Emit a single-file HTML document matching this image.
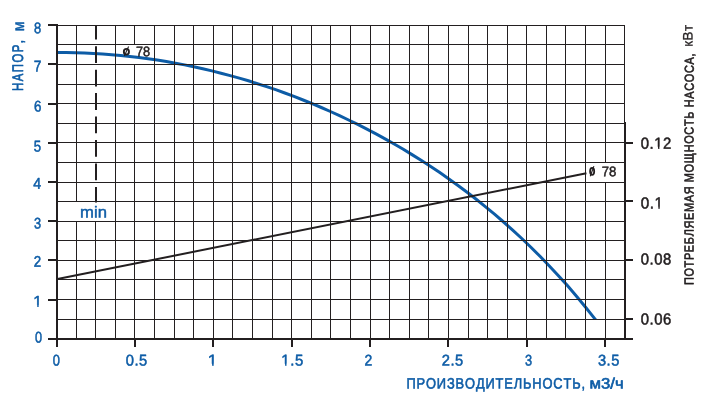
<!DOCTYPE html>
<html><head><meta charset="utf-8"><title>chart</title>
<style>
html,body{margin:0;padding:0;background:#fff;}
svg{display:block;will-change:transform;font-family:"Liberation Sans",sans-serif;font-kerning:none;text-rendering:geometricPrecision;}
</style></head><body>
<svg width="713" height="408" viewBox="0 0 713 408">
<defs><clipPath id="c1" clipPathUnits="userSpaceOnUse"><path clip-rule="evenodd" d="M-50,-50H400V50H-50ZM-0.28,-1.90H4.00V1H-0.28Z M5.46,-1.90H9.62V1H5.46Z"/></clipPath><clipPath id="c2" clipPathUnits="userSpaceOnUse"><path clip-rule="evenodd" d="M-50,-50H400V50H-50ZM-0.28,-1.90H4.00V1H-0.28Z M5.46,-1.90H9.62V1H5.46Z"/></clipPath><clipPath id="c3" clipPathUnits="userSpaceOnUse"><path clip-rule="evenodd" d="M-50,-50H400V50H-50ZM-0.28,-1.90H4.00V1H-0.28Z M5.46,-1.90H9.62V1H5.46Z"/></clipPath><clipPath id="c4" clipPathUnits="userSpaceOnUse"><path clip-rule="evenodd" d="M-50,-50H400V50H-50ZM14.26,-1.90H18.55V1H14.26Z M20.00,-1.90H24.16V1H20.00Z"/></clipPath><clipPath id="c5" clipPathUnits="userSpaceOnUse"><path clip-rule="evenodd" d="M-50,-50H400V50H-50ZM14.26,-1.90H18.55V1H14.26Z M20.00,-1.90H24.16V1H20.00Z"/></clipPath></defs>
<rect width="713" height="408" fill="#fff"/>
<clipPath id="cb"><rect x="0" y="0" width="713" height="319.3"/></clipPath>
<path d="M57.0,52.5 L66.1,52.4 L75.2,52.7 L84.3,53.0 L93.5,53.5 L102.6,54.1 L111.7,54.8 L120.8,55.6 L129.9,56.5 L139.0,57.6 L148.1,58.8 L157.2,60.1 L166.4,61.6 L175.5,63.2 L184.6,64.9 L193.7,66.8 L202.8,68.8 L211.9,70.9 L221.0,73.2 L230.2,75.6 L239.3,78.1 L248.4,80.8 L257.5,83.7 L266.6,86.6 L275.7,89.7 L284.8,93.0 L294.0,96.4 L303.1,100.0 L312.2,103.7 L321.3,107.5 L330.4,111.5 L339.5,115.7 L348.6,120.0 L357.7,124.4 L366.9,129.1 L376.0,133.9 L385.1,138.9 L394.2,144.0 L403.3,149.3 L412.4,154.9 L421.5,160.6 L430.7,166.5 L439.8,172.6 L448.9,178.9 L458.0,185.5 L467.1,192.3 L476.2,199.3 L485.3,206.6 L494.5,214.2 L503.6,222.0 L512.7,230.1 L521.8,238.5 L530.9,247.2 L540.0,256.3 L549.1,265.7 L558.2,275.5 L567.4,285.6 L576.5,296.2 L585.6,307.2 L594.7,318.6 L598.3,323.1" fill="none" stroke="#0d5ca6" stroke-width="3" clip-path="url(#cb)"/>
<g fill="#231f20" shape-rendering="crispEdges">
<rect x="76" y="25" width="1" height="177"/>
<rect x="76" y="221" width="1" height="118"/>
<rect x="95" y="221" width="1" height="118"/>
<rect x="115" y="25" width="1" height="314"/>
<rect x="134" y="25" width="1" height="20"/>
<rect x="134" y="64" width="1" height="275"/>
<rect x="154" y="25" width="1" height="314"/>
<rect x="174" y="25" width="1" height="314"/>
<rect x="193" y="25" width="1" height="314"/>
<rect x="213" y="25" width="1" height="314"/>
<rect x="232" y="25" width="1" height="314"/>
<rect x="252" y="25" width="1" height="314"/>
<rect x="272" y="25" width="1" height="314"/>
<rect x="291" y="25" width="1" height="314"/>
<rect x="311" y="25" width="1" height="314"/>
<rect x="330" y="25" width="1" height="314"/>
<rect x="350" y="25" width="1" height="314"/>
<rect x="370" y="25" width="1" height="314"/>
<rect x="389" y="25" width="1" height="314"/>
<rect x="409" y="25" width="1" height="314"/>
<rect x="428" y="25" width="1" height="314"/>
<rect x="448" y="25" width="1" height="314"/>
<rect x="468" y="25" width="1" height="314"/>
<rect x="487" y="25" width="1" height="314"/>
<rect x="507" y="25" width="1" height="314"/>
<rect x="526" y="25" width="1" height="314"/>
<rect x="546" y="25" width="1" height="314"/>
<rect x="565" y="25" width="1" height="314"/>
<rect x="585" y="25" width="1" height="314"/>
<rect x="605" y="25" width="1" height="138"/>
<rect x="605" y="182" width="1" height="157"/>
<rect x="57" y="25" width="568" height="1"/>
<rect x="57" y="44" width="568" height="1"/>
<rect x="57" y="64" width="568" height="1"/>
<rect x="57" y="84" width="568" height="1"/>
<rect x="57" y="103" width="568" height="1"/>
<rect x="57" y="123" width="568" height="1"/>
<rect x="57" y="142" width="568" height="1"/>
<rect x="57" y="162" width="568" height="1"/>
<rect x="57" y="182" width="568" height="1"/>
<rect x="57" y="201" width="568" height="1"/>
<rect x="57" y="221" width="568" height="1"/>
<rect x="57" y="240" width="568" height="1"/>
<rect x="57" y="260" width="568" height="1"/>
<rect x="57" y="279" width="568" height="1"/>
<rect x="57" y="299" width="568" height="1"/>
<rect x="57" y="319" width="568" height="1"/>
</g>
<g fill="#231f20" shape-rendering="crispEdges">
<rect x="56" y="24" width="2" height="323"/>
<rect x="48" y="338" width="585" height="2"/>
<rect x="624" y="25" width="1" height="98"/>
<rect x="624" y="122" width="2" height="218"/>
<rect x="48" y="24" width="9" height="2"/>
<rect x="48" y="63" width="9" height="2"/>
<rect x="48" y="103" width="9" height="2"/>
<rect x="48" y="142" width="9" height="2"/>
<rect x="48" y="181" width="9" height="2"/>
<rect x="48" y="220" width="9" height="2"/>
<rect x="48" y="259" width="9" height="2"/>
<rect x="48" y="299" width="9" height="2"/>
<rect x="134" y="339" width="2" height="8"/>
<rect x="212" y="339" width="2" height="8"/>
<rect x="291" y="339" width="2" height="8"/>
<rect x="369" y="339" width="2" height="8"/>
<rect x="447" y="339" width="2" height="8"/>
<rect x="526" y="339" width="2" height="8"/>
<rect x="604" y="339" width="2" height="8"/>
<rect x="625" y="142" width="8" height="2"/>
<rect x="625" y="200" width="8" height="2"/>
<rect x="625" y="259" width="8" height="2"/>
<rect x="625" y="318" width="8" height="2"/>
</g>
<line x1="96" y1="25" x2="96" y2="202.6" stroke="#231f20" stroke-width="2" stroke-dasharray="16.8 6.65" stroke-dashoffset="2.25"/>
<line x1="57.5" y1="279.0" x2="586.4" y2="173.3" stroke="#231f20" stroke-width="2"/>
<ellipse cx="126.4" cy="51.7" rx="2.55" ry="2.8" fill="none" stroke="#231f20" stroke-width="1.9"/><line x1="124.3" y1="56.0" x2="128.6" y2="46.6" stroke="#231f20" stroke-width="1.1"/>
<ellipse cx="592.15" cy="171.3" rx="2.05" ry="3.5" fill="none" stroke="#231f20" stroke-width="1.8"/><line x1="590.3" y1="176.3" x2="593.9" y2="166.1" stroke="#231f20" stroke-width="1.1"/>
<text transform="translate(34.01,33.20) rotate(0.04) scale(0.8058,0.9700)" font-size="16" fill="#0d5ca6" stroke="#0d5ca6" stroke-width="0.55" vector-effect="non-scaling-stroke" stroke-linejoin="round">8</text>
<text transform="translate(33.77,71.60) rotate(0.04) scale(0.8593,0.9700)" font-size="16" fill="#0d5ca6" stroke="#0d5ca6" stroke-width="0.55" vector-effect="non-scaling-stroke" stroke-linejoin="round">7</text>
<text transform="translate(33.90,111.50) rotate(0.04) scale(0.8330,0.9700)" font-size="16" fill="#0d5ca6" stroke="#0d5ca6" stroke-width="0.55" vector-effect="non-scaling-stroke" stroke-linejoin="round">6</text>
<text transform="translate(33.75,151.60) rotate(0.04) scale(0.8239,0.9700)" font-size="16" fill="#0d5ca6" stroke="#0d5ca6" stroke-width="0.55" vector-effect="non-scaling-stroke" stroke-linejoin="round">5</text>
<text transform="translate(33.25,188.80) rotate(0.04) scale(0.8868,0.9700)" font-size="16" fill="#0d5ca6" stroke="#0d5ca6" stroke-width="0.55" vector-effect="non-scaling-stroke" stroke-linejoin="round">4</text>
<text transform="translate(33.99,228.40) rotate(0.04) scale(0.7975,0.9700)" font-size="16" fill="#0d5ca6" stroke="#0d5ca6" stroke-width="0.55" vector-effect="non-scaling-stroke" stroke-linejoin="round">3</text>
<text transform="translate(33.81,266.80) rotate(0.04) scale(0.8300,0.9700)" font-size="16" fill="#0d5ca6" stroke="#0d5ca6" stroke-width="0.55" vector-effect="non-scaling-stroke" stroke-linejoin="round">2</text>
<text transform="translate(33.26,306.80) rotate(0.04) scale(0.9876,0.9700)" font-size="16" fill="#0d5ca6" stroke="#0d5ca6" stroke-width="0.55" vector-effect="non-scaling-stroke" stroke-linejoin="round" clip-path="url(#c1)">1</text>
<text transform="translate(34.98,342.60) rotate(0.04) scale(0.7910,0.9700)" font-size="16" fill="#0d5ca6" stroke="#0d5ca6" stroke-width="0.55" vector-effect="non-scaling-stroke" stroke-linejoin="round">0</text>
<text transform="translate(52.87,365.60) rotate(0.04) scale(0.8041,0.9700)" font-size="16" fill="#0d5ca6" stroke="#0d5ca6" stroke-width="0.55" vector-effect="non-scaling-stroke" stroke-linejoin="round">0</text>
<text transform="translate(125.70,365.60) rotate(0.04) scale(0.9189,0.9700)" font-size="16" fill="#0d5ca6" stroke="#0d5ca6" stroke-width="0.55" vector-effect="non-scaling-stroke" stroke-linejoin="round" letter-spacing="0.6">0.5</text>
<text transform="translate(207.84,365.60) rotate(0.04) scale(1.0645,0.9700)" font-size="16" fill="#0d5ca6" stroke="#0d5ca6" stroke-width="0.55" vector-effect="non-scaling-stroke" stroke-linejoin="round" clip-path="url(#c2)">1</text>
<text transform="translate(281.34,365.60) rotate(0.04) scale(0.9349,0.9700)" font-size="16" fill="#0d5ca6" stroke="#0d5ca6" stroke-width="0.55" vector-effect="non-scaling-stroke" stroke-linejoin="round" letter-spacing="0.6" clip-path="url(#c3)">1.5</text>
<text transform="translate(364.57,365.60) rotate(0.04) scale(0.8712,0.9700)" font-size="16" fill="#0d5ca6" stroke="#0d5ca6" stroke-width="0.55" vector-effect="non-scaling-stroke" stroke-linejoin="round">2</text>
<text transform="translate(441.74,365.60) rotate(0.04) scale(0.9173,0.9700)" font-size="16" fill="#0d5ca6" stroke="#0d5ca6" stroke-width="0.55" vector-effect="non-scaling-stroke" stroke-linejoin="round" letter-spacing="0.6">2.5</text>
<text transform="translate(525.09,365.60) rotate(0.04) scale(0.7975,0.9700)" font-size="16" fill="#0d5ca6" stroke="#0d5ca6" stroke-width="0.55" vector-effect="non-scaling-stroke" stroke-linejoin="round">3</text>
<text transform="translate(597.92,365.60) rotate(0.04) scale(0.9138,0.9700)" font-size="16" fill="#0d5ca6" stroke="#0d5ca6" stroke-width="0.55" vector-effect="non-scaling-stroke" stroke-linejoin="round" letter-spacing="0.6">3.5</text>
<text transform="translate(640.79,148.70) rotate(0.04) scale(0.9282,1.0000)" font-size="16" fill="#231f20" stroke="#231f20" stroke-width="0.55" vector-effect="non-scaling-stroke" stroke-linejoin="round" letter-spacing="0.6" clip-path="url(#c4)">0.12</text>
<text transform="translate(640.78,208.60) rotate(0.04) scale(0.9480,1.0000)" font-size="16" fill="#231f20" stroke="#231f20" stroke-width="0.55" vector-effect="non-scaling-stroke" stroke-linejoin="round" letter-spacing="0.6" clip-path="url(#c5)">0.1</text>
<text transform="translate(640.80,264.50) rotate(0.04) scale(0.9250,1.0000)" font-size="16" fill="#231f20" stroke="#231f20" stroke-width="0.55" vector-effect="non-scaling-stroke" stroke-linejoin="round" letter-spacing="0.6">0.08</text>
<text transform="translate(640.80,324.50) rotate(0.04) scale(0.9253,1.0000)" font-size="16" fill="#231f20" stroke="#231f20" stroke-width="0.55" vector-effect="non-scaling-stroke" stroke-linejoin="round" letter-spacing="0.6">0.06</text>
<text transform="translate(135.90,56.20) rotate(0.04) scale(0.9125,1.0000)" font-size="14" fill="#231f20" stroke="#231f20" stroke-width="0.5" vector-effect="non-scaling-stroke" stroke-linejoin="round">78</text>
<text transform="translate(601.77,176.20) rotate(0.04) scale(0.9406,1.0000)" font-size="14" fill="#231f20" stroke="#231f20" stroke-width="0.5" vector-effect="non-scaling-stroke" stroke-linejoin="round">78</text>
<text transform="translate(80.12,217.50) rotate(0.04) scale(1.0410,1.0000)" font-size="16" fill="#0d5ca6" stroke="#0d5ca6" stroke-width="0.45" vector-effect="non-scaling-stroke" stroke-linejoin="round">min</text>
<text transform="translate(406.46,388.40) rotate(0.04) scale(0.8575,1.0000)" font-size="15" fill="#0d5ca6" stroke="#0d5ca6" stroke-width="0.6" vector-effect="non-scaling-stroke" stroke-linejoin="round" letter-spacing="1.0">ПРОИЗВОДИТЕЛЬНОСТЬ,</text>
<text transform="translate(589.54,388.40) rotate(0.04) scale(1.1138,1.0000)" font-size="15" fill="#0d5ca6" stroke="#0d5ca6" stroke-width="0.6" vector-effect="non-scaling-stroke" stroke-linejoin="round">м3/ч</text>
<g transform="translate(23.0,90.4) rotate(-90)"><text transform="translate(-0.58,0.00) rotate(0.04) scale(0.7552,1.0200)" font-size="15" fill="#0d5ca6" stroke="#0d5ca6" stroke-width="0.7" vector-effect="non-scaling-stroke" stroke-linejoin="round" letter-spacing="2.0">НАПОР,</text></g>
<g transform="translate(24.0,30.5) rotate(-90)"><text transform="translate(-0.70,0.00) rotate(0.04) scale(0.8818,1.0000)" font-size="16" fill="#0d5ca6" stroke="#0d5ca6" stroke-width="0.55" vector-effect="non-scaling-stroke" stroke-linejoin="round">м</text></g>
<g transform="translate(693.5,284.5) rotate(-90)"><text transform="translate(-0.56,0.00) rotate(0.04) scale(0.8385,1.0000)" font-size="13" fill="#231f20" stroke="#231f20" stroke-width="0.65" vector-effect="non-scaling-stroke" stroke-linejoin="round" letter-spacing="0.8">ПОТРЕБЛЯЕМАЯ МОЩНОСТЬ НАСОСА,</text></g>
<g transform="translate(692.6,46.0) rotate(-90)"><text transform="translate(-0.72,0.00) rotate(0.04) scale(0.9519,0.9800)" font-size="14" fill="#231f20" stroke="#231f20" stroke-width="0.35" vector-effect="non-scaling-stroke" stroke-linejoin="round" letter-spacing="0.5">кВт</text></g>
</svg>
</body></html>
